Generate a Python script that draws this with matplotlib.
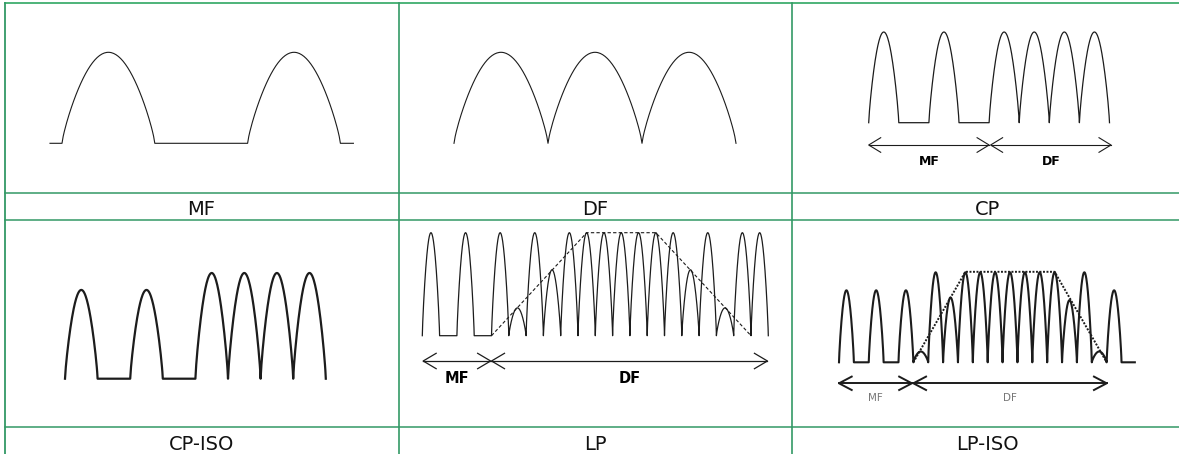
import matplotlib.pyplot as plt
import numpy as np

# -------------------------------------------------
# DATA (pulse amplitude per slot, 0 = flat gap)
# -------------------------------------------------

cell_labels = ["MF", "DF", "CP", "CP-ISO", "LP", "LP-ISO"]

mf_amps = [1, 0, 1]
df_amps = [1, 1, 1]
cp_amps = [1, 0, 1, 0, 1, 1, 1, 1]
cpiso_amps = [0.84, 0, 0.84, 0, 1, 1, 1, 1]
lp_amps = [1, 0, 1, 0, 1, 0.27, 1, 0.64, 1, 1, 1, 1, 1, 1, 1, 0.64, 1, 0.27, 1, 1]
lpiso_amps = [0.8, 0, 0.8, 0, 0.8, 0.12, 1, 0.72, 1, 1, 1, 1, 1, 1, 1, 0.69, 1, 0.12, 0.8]

# ramp envelope corners (slot index, relative amplitude)
lp_env_x = [4, 9.5, 13.5, 19]
lp_env_y = [0, 1, 1, 0]
lpiso_env_x = [5, 8.5, 14.5, 18]
lpiso_env_y = [0, 1, 1, 0]

# arrow spans (slot index) for the MF part and the DF part
cp_spans = [(0, 4), (4.05, 8.05)]
lp_spans = [(0.05, 3.95), (4, 19.95)]
lpiso_spans = [(0, 4.9), (5, 18)]
span_labels = ["MF", "DF"]

# -------------------------------------------------
# HELPERS
# -------------------------------------------------

WAVE = "#1c1c1c"
GRID = "#339966"


def pulse_train(ax, amps, x0, w, base, h, lw, stubs=(0, 0), p=0.8):
    xs, ys = [], []
    if stubs[0]:
        xs += [x0 - stubs[0]]
        ys += [base]
    t = np.linspace(0, 1, 80)
    shape = np.sin(np.pi * t).clip(0) ** p
    for i, a in enumerate(amps):
        if a == 0:
            xs += [x0 + i * w, x0 + (i + 1) * w]
            ys += [base, base]
        else:
            xs += list(x0 + (i + t) * w)
            ys += list(base - a * h * shape)
    if stubs[1]:
        xs += [x0 + len(amps) * w + stubs[1]]
        ys += [base]
    ax.plot(xs, ys, color=WAVE, lw=lw, solid_joinstyle="round")


def envelope(ax, ex, ey, x0, w, base, h, lw, ls):
    ax.plot([x0 + e * w for e in ex], [base - v * h for v in ey],
            color=WAVE, lw=lw, linestyle=ls)


def arrow(ax, xa, xb, y, hl, hw, lw):
    ax.plot([xa, xb], [y, y], color=WAVE, lw=lw)
    ax.plot([xa + hl, xa, xa + hl], [y - hw, y, y + hw], color=WAVE, lw=lw)
    ax.plot([xb - hl, xb, xb - hl], [y - hw, y, y + hw], color=WAVE, lw=lw)


def arrows(ax, spans, x0, w, y, hl, hw, lw, ty, fs, weight, color):
    for (a, b), lab in zip(spans, span_labels):
        arrow(ax, x0 + a * w, x0 + b * w, y, hl, hw, lw)
        ax.text(x0 + (a + b) / 2 * w, ty, lab, ha="center", va="baseline",
                fontsize=fs, fontweight=weight, color=color)


# -------------------------------------------------
# FIGURE
# -------------------------------------------------

fig = plt.figure(figsize=(11.79, 4.54), dpi=100)
ax = fig.add_axes([0, 0, 1, 1])
ax.set_xlim(0, 1179)
ax.set_ylim(454, 0)
ax.axis("off")

# table grid
ax.plot([4.5, 1179], [2.5, 2.5], color="#3fae6e", lw=1.3)
ax.plot([4.5, 4.5], [2.5, 454], color=GRID, lw=1.3)
for yy in [193, 220, 426.5]:
    ax.plot([4.5, 1179], [yy, yy], color=GRID, lw=1.1)
for xx in [398.7, 792]:
    ax.plot([xx, xx], [2.5, 454], color=GRID, lw=1.2)

# labels
col_centers = [201.6, 595.4, 987]
for k, lab in enumerate(cell_labels):
    ax.text(col_centers[k % 3], 215 if k < 3 else 450, lab,
            ha="center", va="baseline", fontsize=14, color="#111111")

# MF
pulse_train(ax, mf_amps, 62, 92.8, 143.3, 91, 0.8, stubs=(12, 13))

# DF
pulse_train(ax, df_amps, 454, 94, 143.3, 91, 0.8)

# CP
pulse_train(ax, cp_amps, 868.7, 30.1, 122.7, 90.7, 0.9)
arrows(ax, cp_spans, 868.7, 30.1, 145, 12, 7.3, 0.8, 165, 9, "bold", "#000000")

# CP-ISO
pulse_train(ax, cpiso_amps, 65, 32.6, 378.7, 105.7, 1.6)

# LP
pulse_train(ax, lp_amps, 422.3, 17.3, 335.7, 103, 0.9)
envelope(ax, lp_env_x, lp_env_y, 422.3, 17.3, 335.7, 103, 0.8, (0, (3, 2)))
arrows(ax, lp_spans, 422.3, 17.3, 361, 13, 7.7, 0.9, 383.3, 10.5, "bold", "#000000")

# LP-ISO
pulse_train(ax, lpiso_amps, 839, 14.87, 362.3, 90, 1.5, stubs=(0, 13.3))
envelope(ax, lpiso_env_x, lpiso_env_y, 839, 14.87, 362.3, 90.5, 1.4, (0, (1, 0.8)))
arrows(ax, lpiso_spans, 839, 14.87, 383.3, 12.7, 6.7, 1.4, 401, 7.5, "normal", "#777777")

plt.savefig("out.png", dpi=100)
